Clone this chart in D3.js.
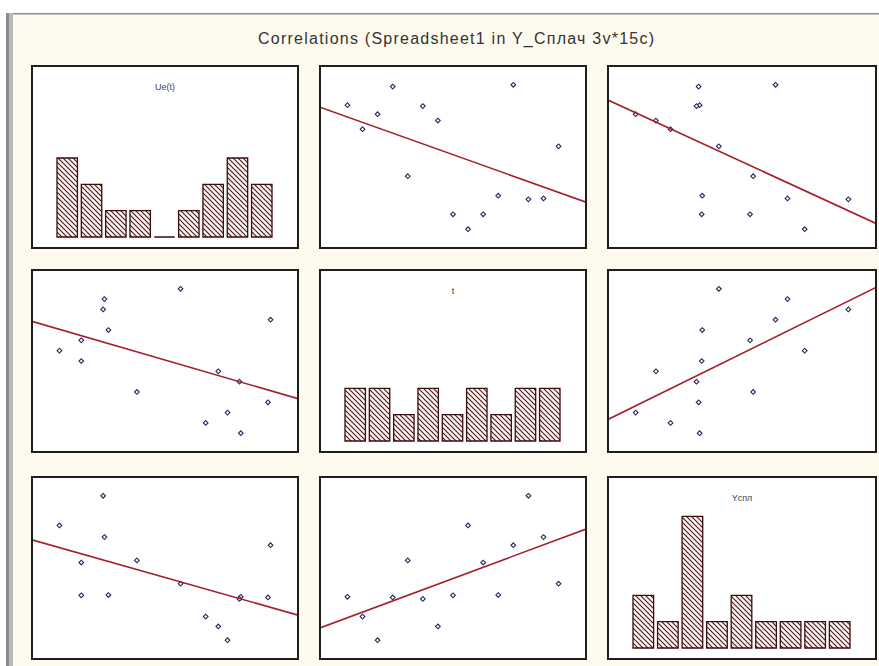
<!DOCTYPE html>
<html>
<head>
<meta charset="utf-8">
<script src="https://cdn.jsdelivr.net/npm/d3@7"></script>
<style>
html,body{margin:0;padding:0;background:#ffffff;}
svg{display:block;}
</style>
</head>
<body>
<svg id="chart" width="879" height="666"></svg>
<script>
// ---------------- data ----------------
const chartTitle = "Correlations (Spreadsheet1 in Y_Сплач 3v*15c)";
const varNames = ["Ue(t)", "t", "Yспл"];
const tValues = [1, 2, 3, 4, 5, 6, 7, 8, 9, 10, 11, 12, 13, 14, 15];
const ueValues = [1.18, 0.65, 0.98, 1.59, -0.39, 1.16, 0.84, -1.23, -1.56, -1.23, -0.82, 1.63, -0.90, -0.88, 0.27];
const ysplValues = [27.0, 21.4, 14.7, 26.8, 37.3, 26.4, 18.6, 27.4, 47.2, 36.7, 27.5, 41.6, 55.6, 43.9, 30.7];
const ueCounts = [3, 2, 1, 1, 0, 1, 2, 3, 2];
const tCounts = [2, 2, 1, 2, 1, 2, 1, 2, 2];
const ysplCounts = [2, 1, 5, 1, 2, 1, 1, 1, 1];

const seriesValues = [ueValues, tValues, ysplValues];
const histCounts = [ueCounts, tCounts, ysplCounts];

// ---------------- layout ----------------
const svg = d3.select("#chart");
const W = 879, H = 666;
const colX = [32, 320, 608], colW = [266, 266, 268];
const rowY = [66, 270, 477], rowH = 182;

const defs = svg.append("defs");
const pat = defs.append("pattern")
  .attr("id", "hatch").attr("patternUnits", "userSpaceOnUse")
  .attr("width", 5).attr("height", 5);
pat.append("rect").attr("width", 5).attr("height", 5).attr("fill", "#fff6f6");
pat.append("path").attr("d", "M-1,-1 L6,6 M-1,4 L1,6 M4,-1 L6,1")
  .attr("stroke", "#4a1414").attr("stroke-width", 1.1);

// frame
svg.append("rect").attr("x", 0).attr("y", 0).attr("width", W).attr("height", H).attr("fill", "#ffffff");
svg.append("rect").attr("x", 6).attr("y", 13).attr("width", W - 6).attr("height", H - 13).attr("fill", "#fefbee");
svg.append("rect").attr("x", 6).attr("y", 13).attr("width", W - 6).attr("height", 1.5).attr("fill", "#8c8c8c");
svg.append("rect").attr("x", 6).attr("y", 13).attr("width", 3).attr("height", H - 13).attr("fill", "#8a8a8a");
svg.append("rect").attr("x", 9).attr("y", 13).attr("width", 4).attr("height", H - 13).attr("fill", "#b8b8b8");

svg.append("text").attr("x", 456).attr("y", 44)
  .attr("text-anchor", "middle")
  .attr("font-family", "Liberation Sans, Arial, sans-serif")
  .attr("font-size", 16).attr("fill", "#333")
  .attr("textLength", 396).attr("lengthAdjust", "spacing")
  .text(chartTitle);

function extentPad(vals) {
  const [a, b] = d3.extent(vals);
  const p = (b - a) * 0.13;
  return [a - p, b + p];
}

for (let r = 0; r < 3; r++) {
  for (let c = 0; c < 3; c++) {
    const x0 = colX[c], y0 = rowY[r], w = colW[c], h = rowH;
    const g = svg.append("g");
    const clipId = `clip-${r}-${c}`;
    defs.append("clipPath").attr("id", clipId)
      .append("rect").attr("x", x0).attr("y", y0).attr("width", w).attr("height", h);
    g.append("rect").attr("x", x0).attr("y", y0).attr("width", w).attr("height", h)
      .attr("fill", "#ffffff");

    if (r === c) {
      const counts = histCounts[r];
      const xb = d3.scaleBand().domain(d3.range(counts.length))
        .range([x0 + 25, x0 + w - 26]).paddingInner(0.16).paddingOuter(0);
      const base = y0 + h - 11;
      const yb = d3.scaleLinear().domain([0, 6]).range([base, base - 158]);
      g.selectAll("path.bar").data(counts).join("path")
        .attr("class", "bar")
        .attr("d", (d, i) => {
          const bx = xb(i), bw = xb.bandwidth();
          return `M${bx},${yb(0)}H${bx + bw}V${yb(d)}H${bx}Z`;
        })
        .attr("fill", "url(#hatch)")
        .attr("stroke", "#3a0c0c").attr("stroke-width", 1.3);
      g.append("text").attr("x", x0 + w / 2).attr("y", y0 + 24)
        .attr("text-anchor", "middle")
        .attr("font-family", "Liberation Sans, Arial, sans-serif")
        .attr("font-size", 9).attr("fill", "#444")
        .text(varNames[r]);
    } else {
      const xv = seriesValues[c], yv = seriesValues[r];
      const xs = d3.scaleLinear().domain(extentPad(xv)).range([x0, x0 + w]);
      const ys = d3.scaleLinear().domain(extentPad(yv)).range([y0 + h, y0]);
      const sym = d3.symbol().type(d3.symbolSquare).size(11);
      g.selectAll("path.pt").data(xv.map((xx, i) => [xx, yv[i]])).join("path")
        .attr("class", "pt")
        .attr("transform", d => `translate(${xs(d[0])},${ys(d[1])}) rotate(45)`)
        .attr("d", sym)
        .attr("fill", "#ffffff").attr("stroke", "#27275e").attr("stroke-width", 1.1);
      // least squares regression
      const mx = d3.mean(xv), my = d3.mean(yv);
      let sxy = 0, sxx = 0;
      xv.forEach((xx, i) => { sxy += (xx - mx) * (yv[i] - my); sxx += (xx - mx) * (xx - mx); });
      const slope = sxy / sxx, icpt = my - slope * mx;
      const [dx0, dx1] = xs.domain();
      g.append("line")
        .attr("clip-path", `url(#${clipId})`)
        .attr("x1", xs(dx0)).attr("y1", ys(icpt + slope * dx0))
        .attr("x2", xs(dx1)).attr("y2", ys(icpt + slope * dx1))
        .attr("stroke", "#a3202c").attr("stroke-width", 1.6);
    }
    g.append("rect").attr("x", x0).attr("y", y0).attr("width", w).attr("height", h)
      .attr("fill", "none").attr("stroke", "#1e1e1e").attr("stroke-width", 2);
  }
}
</script>
</body>
</html>
